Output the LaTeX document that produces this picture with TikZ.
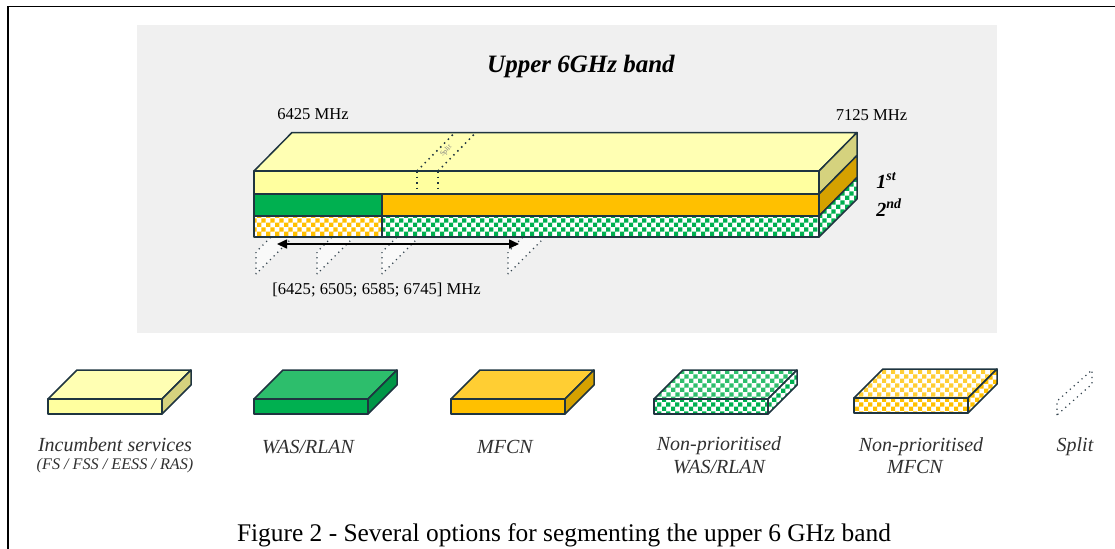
\documentclass[tikz,border=0pt]{standalone}
\usepackage{fontspec}
\setmainfont{Liberation Serif}
\usetikzlibrary{arrows.meta,patterns}

% small checkerboard used for the non-prioritised services
\pgfdeclarepatternformonly{smallchecks}{\pgfqpoint{0pt}{0pt}}{\pgfqpoint{4.6pt}{4.6pt}}{\pgfqpoint{4.6pt}{4.6pt}}{%
  \pgfpathrectangle{\pgfqpoint{0pt}{0pt}}{\pgfqpoint{2.3pt}{2.3pt}}%
  \pgfpathrectangle{\pgfqpoint{2.3pt}{2.3pt}}{\pgfqpoint{2.3pt}{2.3pt}}%
  \pgfusepath{fill}}

\definecolor{outline}{HTML}{1F3540}
\definecolor{panel}{HTML}{F0F0F0}
\definecolor{yelTop}{HTML}{FFFFB3}
\definecolor{yelFront}{HTML}{FFFF9F}
\definecolor{yelSide}{HTML}{D5D27E}
\definecolor{grnFront}{HTML}{00B050}
\definecolor{grnTop}{HTML}{2DBE6C}
\definecolor{grnSide}{HTML}{009646}
\definecolor{orgFront}{HTML}{FFC000}
\definecolor{orgTop}{HTML}{FFCE33}
\definecolor{orgSide}{HTML}{D5A100}
\definecolor{markline}{HTML}{34444F}
\definecolor{legtext}{HTML}{303030}

\tikzset{
  slabedge/.style={draw=outline, line width=0.75pt, line join=round},
  grnchecks/.style={preaction={fill=white}, pattern=smallchecks, pattern color=grnFront},
  grnchecksTop/.style={preaction={fill=white}, pattern=smallchecks, pattern color=grnTop},
  orgchecks/.style={preaction={fill=white}, pattern=smallchecks, pattern color=orgFront},
  orgchecksTop/.style={preaction={fill=white}, pattern=smallchecks, pattern color=orgTop},
  splitmark/.style={draw=markline, dotted, line width=0.6pt, fill=white, fill opacity=0.6},
  splitline/.style={draw=outline, dotted, line width=0.75pt},
  freqlabel/.style={font=\fontsize{8.3}{10}\selectfont, anchor=base, inner sep=0pt},
  ordlabel/.style={font=\fontsize{10}{12}\selectfont\bfseries\itshape, anchor=base west, inner sep=0pt},
  legendlabel/.style={font=\fontsize{10}{12}\selectfont\itshape, text=legtext, anchor=base, inner sep=0pt},
  pics/slab/.style n args={3}{code={
    \path[slabedge,#2] (0,0) -- (29,-29) -- (143,-29) -- (114,0) -- cycle;
    \path[slabedge,#3] (114,0) -- (143,-29) -- (143,-14) -- (114,15) -- cycle;
    \path[slabedge,#1] (0,0) rectangle (114,15);
  }}
}

\begin{document}
\begin{tikzpicture}[x=0.5pt,y=-0.5pt]
\useasboundingbox (0,0) rectangle (1115,548);

% page frame
\draw[line width=0.8pt] (8,549) -- (8,6.5) -- (1116,6.5);

% grey panel
\fill[panel] (137,25) rectangle (997,333);

\node[font=\fontsize{12.5}{15}\selectfont\bfseries\itshape, anchor=base, inner sep=0pt] (title) at (581,72) {Upper 6GHz band};

% split planes below the band
\foreach \x in {256,317,382,508}
  \draw[splitmark] (\x,274) -- (\x,252) -- (\x+36,216) -- (\x+36,238) -- cycle;

% range arrow
\coordinate (arrL) at (277,244);
\coordinate (arrR) at (519,244);
\draw[line width=0.8pt, {Triangle[length=5pt,width=4.5pt]}-{Triangle[length=5pt,width=4.5pt]}] (arrL) -- (arrR);

% the band: top face
\path[slabedge, fill=yelTop] (254,171) -- (292,132.5) -- (857,132.5) -- (819,171) -- cycle;
% right side
\path[slabedge, fill=yelSide] (819,171) -- (857,132.5) -- (857,155.5) -- (819,194) -- cycle;
\path[slabedge, fill=orgSide] (819,194) -- (857,155.5) -- (857,177.5) -- (819,216) -- cycle;
\path[slabedge, grnchecks] (819,216) -- (857,177.5) -- (857,199) -- (819,237) -- cycle;
% front rows
\path[slabedge, fill=yelFront] (254,171) rectangle (819,194);
\path[slabedge, fill=grnFront] (254,194) rectangle (382,216);
\path[slabedge, fill=orgFront] (382,194) rectangle (819,216);
\path[slabedge, orgchecks] (254,216) rectangle (382,237);
\path[slabedge, grnchecks] (382,216) rectangle (819,237);

% split on the top face
\draw[splitline] (417,171) -- (455,132.5);
\draw[splitline] (438,171) -- (476,132.5);
\draw[splitline] (417,171) -- (417,194);
\draw[splitline] (438,171) -- (438,194);
\node[font=\fontsize{3.5}{4}\selectfont, text=gray, rotate=45, inner sep=0pt] (splittext) at (446,151) {Split};

% frequency labels
\node[freqlabel] (fLow) at (313,119) {6425 MHz};
\node[freqlabel] (fHigh) at (871.5,120) {7125 MHz};
\node[freqlabel] (fSplits) at (376.5,294) {[6425; 6505; 6585; 6745] MHz};

\node[ordlabel] (first) at (876,188) {1\textsuperscript{st}};
\node[ordlabel] (second) at (876,216) {2\textsuperscript{nd}};

% legend
\pic at (48,399) {slab={fill=yelFront}{fill=yelTop}{fill=yelSide}};
\pic at (254,399) {slab={fill=grnFront}{fill=grnTop}{fill=grnSide}};
\pic at (451,399) {slab={fill=orgFront}{fill=orgTop}{fill=orgSide}};
\pic at (654,399) {slab={grnchecks}{grnchecksTop}{grnchecks}};
\pic at (854,398) {slab={orgchecks}{orgchecksTop}{orgchecks}};
\draw[splitmark] (1057,415) -- (1057,401) -- (1092,370) -- (1092,384) -- cycle;

\node[legendlabel] (lgInc) at (115,451.5) {Incumbent services};
\node[legendlabel, font=\fontsize{8.1}{9}\selectfont\itshape] (lgIncSub) at (115,469) {(FS / FSS / EESS / RAS)};
\node[legendlabel] (lgWas) at (308,453) {WAS/RLAN};
\node[legendlabel] (lgMfcn) at (505,453) {MFCN};
\node[legendlabel] (lgNpWas) at (719,450) {Non-prioritised};
\node[legendlabel] (lgNpWas2) at (719,473) {WAS/RLAN};
\node[legendlabel] (lgNpMfcn) at (921,451.5) {Non-prioritised};
\node[legendlabel] (lgNpMfcn2) at (915,473.5) {MFCN};
\node[legendlabel] (lgSplit) at (1075,451.5) {Split};

% caption
\node[font=\fontsize{12.7}{15}\selectfont, anchor=base, inner sep=0pt] (caption) at (564,541) {Figure 2 - Several options for segmenting the upper 6 GHz band};
\end{tikzpicture}
\end{document}
